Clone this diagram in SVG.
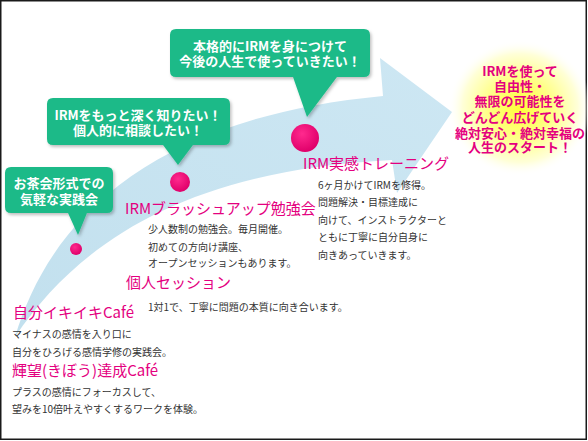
<svg xmlns="http://www.w3.org/2000/svg" width="588" height="441" viewBox="0 0 588 441">
<defs>
<style>
.bub{fill:#1fba88;}
.bt{font-family:"Noto Sans CJK JP","Noto Sans",sans-serif;font-size:13px;font-weight:bold;fill:#ffffff;text-anchor:middle;}
.lbl{font-family:"Noto Sans CJK JP","Noto Sans",sans-serif;font-size:15px;fill:#e4007f;}
.body{font-family:"Noto Sans CJK JP","Noto Sans",sans-serif;font-size:10px;fill:#333333;}
.goal{font-family:"Noto Sans CJK JP","Noto Sans",sans-serif;font-size:13px;font-weight:bold;fill:#e4007f;text-anchor:middle;}
.dot{fill:url(#dotg);}
</style>
<radialGradient id="glow" cx="0.5" cy="0.5" r="0.5">
<stop offset="0" stop-color="#ffff3a"/>
<stop offset="0.45" stop-color="#ffff88"/>
<stop offset="0.8" stop-color="#ffffd8"/>
<stop offset="1" stop-color="#ffffff" stop-opacity="0"/>
</radialGradient>
<radialGradient id="dotg" cx="0.4" cy="0.35" r="0.65">
<stop offset="0" stop-color="#ff2a8e"/>
<stop offset="1" stop-color="#e0006a"/>
</radialGradient>
<linearGradient id="arrg" x1="0" y1="1" x2="1" y2="0">
<stop offset="0" stop-color="#c2e0ee"/>
<stop offset="1" stop-color="#cde7f3"/>
</linearGradient>
<filter id="sh" x="-10%" y="-10%" width="130%" height="140%">
<feDropShadow dx="1.5" dy="2" stdDeviation="1.5" flood-color="#000" flood-opacity="0.25"/>
</filter>
</defs>
<rect x="0" y="0" width="588" height="441" fill="#ffffff"/>
<rect x="0.75" y="0.75" width="585.5" height="438.5" fill="none" stroke="#1a1a1a" stroke-width="1.5"/>

<g id="goal">
<ellipse cx="520" cy="108" rx="72" ry="68" fill="url(#glow)"/>
<text class="goal" x="520" y="75.5">IRMを使って</text>
<text class="goal" x="520" y="90.5">自由性・</text>
<text class="goal" x="520" y="105.5">無限の可能性を</text>
<text class="goal" x="520" y="121.5">どんどん広げていく</text>
<text class="goal" x="520" y="137.5">絶対安心・絶対幸福の</text>
<text class="goal" x="520" y="151.5">人生のスタート！</text>
</g>

<g id="connectors">
<path d="M15,337 C50,220 150,118 383,96 L380,58 L452,112 L397,193 L392,160 C190,170 80,240 15,337 Z" fill="url(#arrg)"/>
</g>

<g id="bubble1">
<path class="bub" filter="url(#sh)" d="M11,167 H107 Q113,167 113,173 V207 Q113,213 107,213 H87 L78,235 L68,213 H11 Q5,213 5,207 V173 Q5,167 11,167 Z"/>
<text class="bt" x="59" y="188">お茶会形式での</text>
<text class="bt" x="59" y="204">気軽な実践会</text>
<circle class="dot" cx="76" cy="249" r="6"/>
</g>

<g id="bubble2">
<path class="bub" filter="url(#sh)" d="M53,98 H224 Q230,98 230,104 V139 Q230,145 224,145 H193 L178,165 L163,145 H53 Q47,145 47,139 V104 Q47,98 53,98 Z"/>
<text class="bt" x="138" y="119.5">IRMをもっと深く知りたい！</text>
<text class="bt" x="138" y="134.5">個人的に相談したい！</text>
<circle class="dot" cx="180" cy="182" r="10"/>
</g>

<g id="bubble3">
<path class="bub" filter="url(#sh)" d="M176,29 H364 Q370,29 370,35 V71 Q370,77 364,77 H337 L307,117 L293,77 H176 Q170,77 170,71 V35 Q170,29 176,29 Z"/>
<text class="bt" x="270" y="50.5">本格的にIRMを身につけて</text>
<text class="bt" x="270" y="65.5">今後の人生で使っていきたい！</text>
<circle class="dot" cx="305" cy="138" r="14"/>
</g>

<g id="training">
<text class="lbl" x="303" y="168.5">IRM実感トレーニング</text>
<text class="body" x="318" y="188.6">6ヶ月かけてIRMを修得。</text>
<text class="body" x="318" y="205.6">問題解決・目標達成に</text>
<text class="body" x="318" y="223.6">向けて、インストラクターと</text>
<text class="body" x="318" y="240.6">ともに丁寧に自分自身に</text>
<text class="body" x="318" y="258.6">向きあっていきます。</text>
</g>

<g id="brushup">
<text class="lbl" x="125" y="213.5">IRMブラッシュアップ勉強会</text>
<text class="body" x="148" y="232.6">少人数制の勉強会。毎月開催。</text>
<text class="body" x="148" y="250.6">初めての方向け講座、</text>
<text class="body" x="148" y="266.6">オープンセッションもあります。</text>
</g>

<g id="session">
<text class="lbl" x="126" y="287.5">個人セッション</text>
<text class="body" x="148" y="310.6">1対1で、丁寧に問題の本質に向き合います。</text>
</g>

<g id="cafe1">
<text class="lbl" x="13" y="317.5">自分イキイキCafé</text>
<text class="body" x="12" y="337.6">マイナスの感情を入り口に</text>
<text class="body" x="12" y="355.6">自分をひろげる感情学修の実践会。</text>
</g>

<g id="cafe2">
<text class="lbl" x="12" y="375.5">輝望(きぼう)達成Café</text>
<text class="body" x="12" y="395.6">プラスの感情にフォーカスして、</text>
<text class="body" x="12" y="412.6">望みを10倍叶えやすくするワークを体験。</text>
</g>
</svg>
